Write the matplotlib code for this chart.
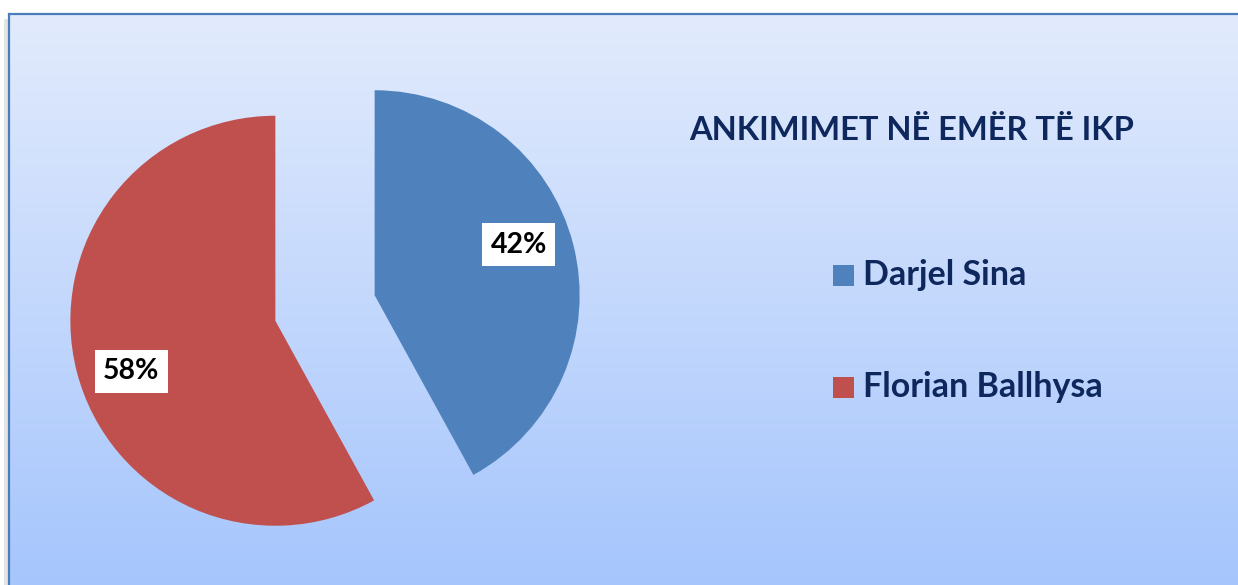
import numpy as np
import matplotlib
matplotlib.use("Agg")
import matplotlib.pyplot as plt
from matplotlib.patches import Rectangle

# ---- data ----
labels = ["Darjel Sina", "Florian Ballhysa"]
values = [42, 58]
colors = ["#4f81bd", "#c0504d"]
title = "ANKIMIMET NË EMËR TË IKP"

W, H = 1238, 585
fig = plt.figure(figsize=(W / 100, H / 100), dpi=100)
fig.patch.set_facecolor("white")

# background gradient + frame (pixel coordinates)
bg = fig.add_axes([0, 0, 1, 1])
bg.set_xlim(0, W)
bg.set_ylim(0, H)
bg.axis("off")
top_c = np.array([226, 235, 253]) / 255
bot_c = np.array([165, 197, 252]) / 255
t = np.linspace(0, 1, 256)[:, None]
grad = top_c[None, :] * (1 - t) + bot_c[None, :] * t
grad = np.repeat(grad[:, None, :], 2, axis=1)
bg.imshow(grad, extent=[9, W + 5, -5, H - 14], aspect="auto", origin="upper", zorder=0)
# shadow
bg.add_patch(Rectangle((4, -5), 5, H - 14, facecolor="#e4e4e4", edgecolor="none", zorder=0.5))
bg.add_patch(Rectangle((8.5, -10), W + 20, H - 14 + 10, facecolor="none",
                       edgecolor="#4a7ebb", linewidth=1.6, zorder=1))

# pie axes: centre at (325, 308 from top), radius 205 px
cx, cy_top, R = 325, 308, 205
cy = H - cy_top
half_w, half_h = 300, 270
ax = fig.add_axes([(cx - half_w) / W, (cy - half_h) / H, 2 * half_w / W, 2 * half_h / H])
ax.patch.set_alpha(0)
wedges, _ = ax.pie(values, colors=colors, startangle=90, counterclock=False,
                   explode=[0.25, 0.25], radius=1.0,
                   wedgeprops=dict(linewidth=0))
ax.set_xlim(-half_w / R, half_w / R)
ax.set_ylim(-half_h / R, half_h / R)
ax.set_aspect("auto")
ax.axis("off")

# percentage labels inside slices
for w, v in zip(wedges, values):
    ang = np.deg2rad((w.theta1 + w.theta2) / 2 + 5)
    c = np.array(w.center)
    x, y = c + 0.745 * w.r * np.array([np.cos(ang), np.sin(ang)])
    ax.text(x, y, f"{v}%", ha="center", va="center", fontsize=20.5,
            fontweight="bold", family=["Lato", "DejaVu Sans"], color="black",
            bbox=dict(facecolor="white", edgecolor="none", boxstyle="square,pad=0.3"))

navy = "#0e275c"
fig.text(912 / W, 1 - 131 / H, title, ha="center", va="center", fontsize=23.5,
         fontweight="bold", color=navy, family=["Lato", "DejaVu Sans"])

leg_y = [275, 387]
for lab, col, yy in zip(labels, colors, leg_y):
    bg.add_patch(Rectangle((833, H - yy - 10.5), 21, 21, facecolor=col, edgecolor="none", zorder=2))
    bg.text(863, H - yy, lab, ha="left", va="center", fontsize=24.5, fontweight="bold",
            color=navy, family=["Lato", "DejaVu Sans"], zorder=2)

fig.savefig("out.png", dpi=100)
